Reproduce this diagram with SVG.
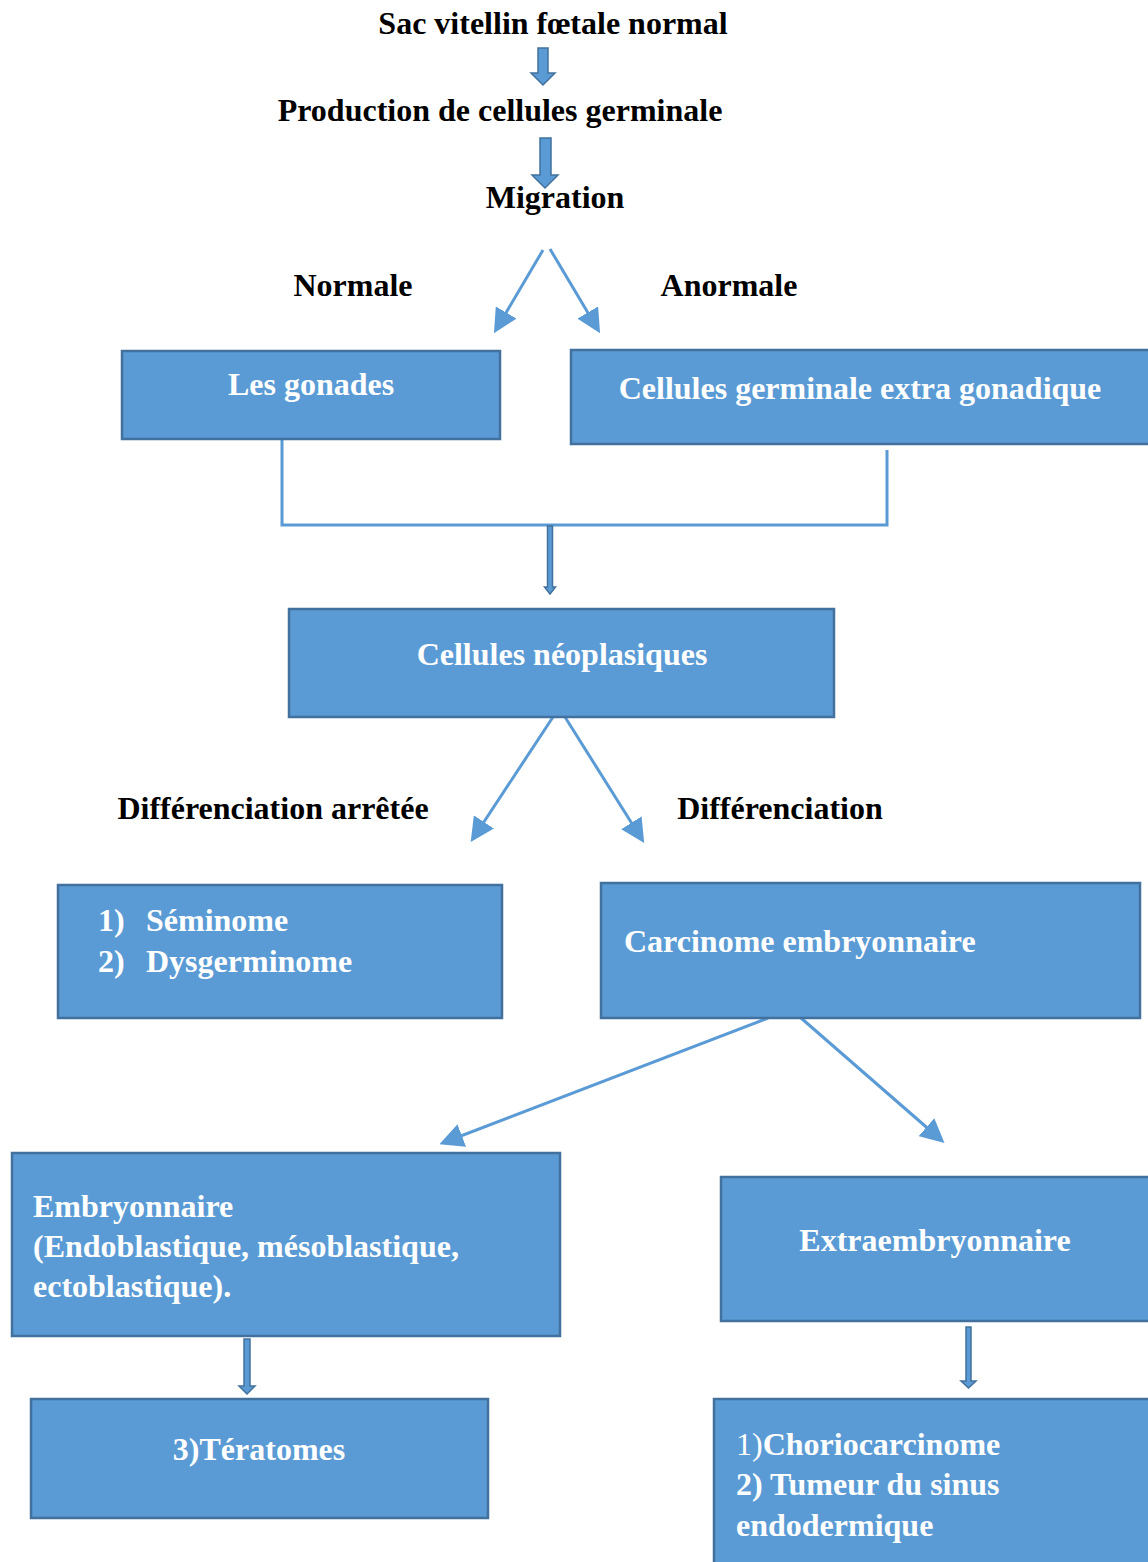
<svg xmlns="http://www.w3.org/2000/svg" width="1148" height="1562" viewBox="0 0 1148 1562">
<defs>
<style>
.box{fill:#5B9BD5;stroke:#41719C;stroke-width:2.5}
.t{font-family:"Liberation Serif","Times New Roman",serif;font-weight:bold;font-size:32px;fill:#000}
.w{font-family:"Liberation Serif","Times New Roman",serif;font-weight:bold;font-size:32px;fill:#fff}
.ln{stroke:#5B9BD5;stroke-width:3;fill:none}
.blk{fill:#5B9BD5;stroke:#41719C;stroke-width:1.5}
</style>
<marker id="ah" markerWidth="8" markerHeight="8" refX="6" refY="4" orient="auto" markerUnits="strokeWidth" viewBox="0 0 8 8">
<path d="M0,0 L8,4 L0,8 z" fill="#5B9BD5"/>
</marker>
</defs>
<rect width="1148" height="1562" fill="#fff"/>

<g id="labels">
<text class="t" x="553" y="34" text-anchor="middle">Sac vitellin fœtale normal</text>
<text class="t" x="500" y="121" text-anchor="middle">Production de cellules germinale</text>
<text class="t" x="555" y="208" text-anchor="middle">Migration</text>
<text class="t" x="353" y="296" text-anchor="middle">Normale</text>
<text class="t" x="729" y="296" text-anchor="middle">Anormale</text>
<text class="t" x="273" y="819" text-anchor="middle">Différenciation arrêtée</text>
<text class="t" x="780" y="819" text-anchor="middle">Différenciation</text>
</g>

<g id="connectors">
<path class="blk" d="M538,48 H548 V73 H555 L543,85 L531,73 H538 Z"/>
<path class="blk" d="M540,138 H551 V175 H558 L545,188 L532,175 H540 Z"/>
<line class="ln" x1="543" y1="250" x2="497" y2="328" marker-end="url(#ah)"/>
<line class="ln" x1="550" y1="249" x2="597" y2="328" marker-end="url(#ah)"/>
<polyline class="ln" points="282,440 282,525 887,525 887,450"/>
<path class="blk" d="M547.5,526 H552.5 V587 H555.5 L550,594 L544.5,587 H547.5 Z"/>
<line class="ln" x1="553" y1="717" x2="474" y2="837" marker-end="url(#ah)"/>
<line class="ln" x1="565" y1="717" x2="641" y2="838" marker-end="url(#ah)"/>
<line class="ln" x1="768" y1="1018" x2="445" y2="1142" marker-end="url(#ah)"/>
<line class="ln" x1="801" y1="1018" x2="940" y2="1139" marker-end="url(#ah)"/>
<path class="blk" d="M244,1339 H250 V1386 H255 L247,1394 L239,1386 H244 Z"/>
<path class="blk" d="M966,1327 H971 V1381 H976 L968.5,1388 L961,1381 H966 Z"/>
</g>

<g id="n-gonades">
<rect class="box" x="122" y="351" width="378" height="88"/>
<text class="w" x="311" y="395" text-anchor="middle">Les gonades</text>
</g>
<g id="n-extra">
<rect class="box" x="571" y="350" width="590" height="94"/>
<text class="w" x="860" y="399" text-anchor="middle">Cellules germinale extra gonadique</text>
</g>
<g id="n-neo">
<rect class="box" x="289" y="609" width="545" height="108"/>
<text class="w" x="562" y="665" text-anchor="middle">Cellules néoplasiques</text>
</g>
<g id="n-seminome">
<rect class="box" x="58" y="885" width="444" height="133"/>
<text class="w" x="98" y="931">1)</text>
<text class="w" x="146" y="931">Séminome</text>
<text class="w" x="98" y="972">2)</text>
<text class="w" x="146" y="972">Dysgerminome</text>
</g>
<g id="n-carcinome">
<rect class="box" x="601" y="883" width="539" height="135"/>
<text class="w" x="624" y="952">Carcinome embryonnaire</text>
</g>
<g id="n-embryonnaire">
<rect class="box" x="12" y="1153" width="548" height="183"/>
<text class="w" x="33" y="1217">Embryonnaire</text>
<text class="w" x="33" y="1257">(Endoblastique, mésoblastique,</text>
<text class="w" x="33" y="1297">ectoblastique).</text>
</g>
<g id="n-extraembryonnaire">
<rect class="box" x="721" y="1177" width="440" height="144"/>
<text class="w" x="935" y="1251" text-anchor="middle">Extraembryonnaire</text>
</g>
<g id="n-teratomes">
<rect class="box" x="31" y="1399" width="457" height="119"/>
<text class="w" x="259" y="1460" text-anchor="middle">3)Tératomes</text>
</g>
<g id="n-chorio">
<rect class="box" x="714" y="1399" width="450" height="180"/>
<text class="w" x="736" y="1455"><tspan font-weight="normal">1)</tspan>Choriocarcinome</text>
<text class="w" x="736" y="1495">2) Tumeur du sinus</text>
<text class="w" x="736" y="1536">endodermique</text>
</g>
</svg>
